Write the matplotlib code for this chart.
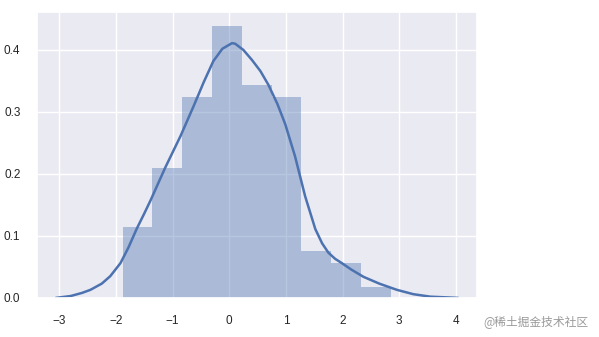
import matplotlib
matplotlib.use("Agg")
import matplotlib.pyplot as plt
import seaborn as sns

# Histogram (density)
bin_edges = [-1.882, -1.356, -0.830, -0.304, 0.222, 0.748, 1.274, 1.800, 2.326, 2.852]
densities = [0.114, 0.209, 0.324, 0.439, 0.344, 0.324, 0.076, 0.056, 0.018]

# KDE curve points
kde_x = [-3.06, -2.80, -2.60, -2.45, -2.25, -2.10, -1.92, -1.78, -1.63, -1.50, -1.39,
         -1.13, -0.86, -0.63, -0.45, -0.28, -0.12, 0.05, 0.106, 0.25, 0.40, 0.55,
         0.69, 0.85, 0.99, 1.16, 1.34, 1.52, 1.64, 1.75, 1.87, 1.99, 2.15, 2.37,
         2.65, 2.96, 3.25, 3.55, 3.80, 4.04]
kde_y = [0.000, 0.003, 0.008, 0.013, 0.023, 0.035, 0.056, 0.081, 0.112, 0.136, 0.157,
         0.210, 0.261, 0.309, 0.348, 0.382, 0.402, 0.411, 0.410, 0.400, 0.384, 0.366,
         0.344, 0.313, 0.280, 0.229, 0.164, 0.111, 0.088, 0.073, 0.063, 0.056, 0.046, 0.034,
         0.023, 0.013, 0.006, 0.002, 0.001, 0.000]

x_ticks = [-3, -2, -1, 0, 1, 2, 3, 4]
y_ticks = [0.0, 0.1, 0.2, 0.3, 0.4]

sns.set_theme(style="darkgrid")
plt.rcParams['font.family'] = ['Liberation Sans', 'DejaVu Sans']

fig = plt.figure(figsize=(5.99, 3.37), dpi=100)
ax = fig.add_axes([0.062, 0.116, 0.734, 0.848])

color = "#4C72B0"
widths = [bin_edges[i + 1] - bin_edges[i] for i in range(len(densities))]
ax.bar(bin_edges[:-1], densities, width=widths, align="edge",
       color=color, alpha=0.4, linewidth=0)
ax.plot(kde_x, kde_y, color=color, lw=1.8, solid_joinstyle="round")

ax.set_xlim(-3.39, 4.37)
ax.set_ylim(0, 0.461)
ax.set_xticks(x_ticks)
ax.set_xticklabels([str(t) if t >= 0 else "\u2212" + str(-t) for t in x_ticks])
ax.set_yticks(y_ticks)
ax.set_yticklabels([f"{t:.1f}" for t in y_ticks])
ax.tick_params(labelsize=8.5, colors="#262626", pad=6)

fig.text(0.983, 0.045, "@稀土掘金技术社区", ha="right", va="center",
         fontsize=8.5, color="#9a9a9a",
         family=['Noto Sans CJK SC', 'DejaVu Sans'])

fig.savefig("out.png", dpi=100)
